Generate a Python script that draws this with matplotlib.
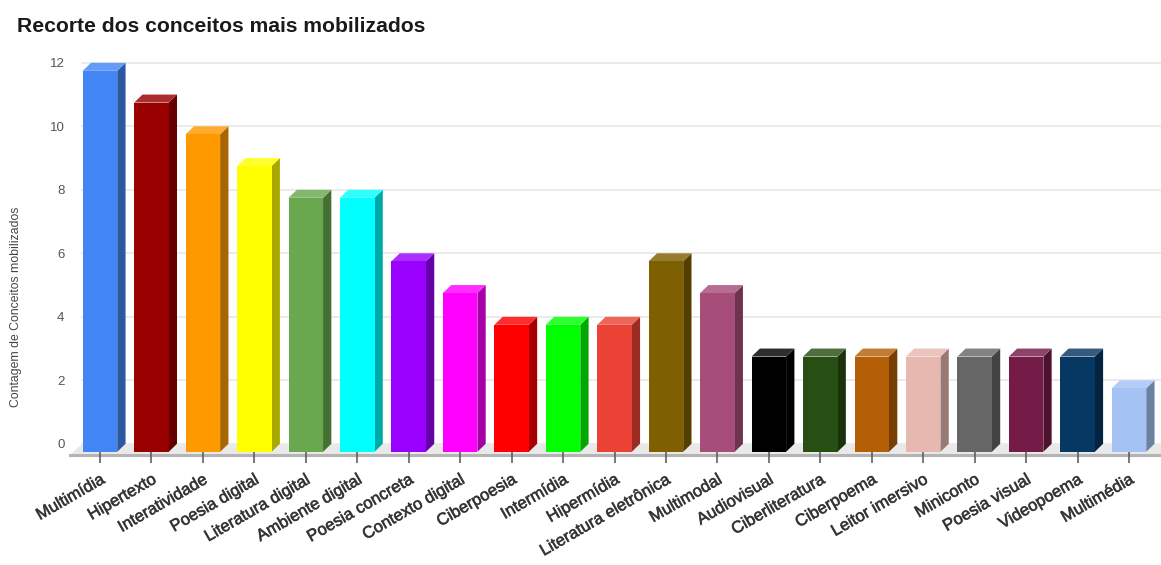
import matplotlib
matplotlib.use("Agg")
import matplotlib.pyplot as plt
import matplotlib.patheffects as pe
from matplotlib.colors import to_rgb
from matplotlib.patches import Polygon
import numpy as np

plt.rcParams['font.family'] = ['Liberation Sans', 'DejaVu Sans']

title = "Recorte dos conceitos mais mobilizados"
ylabel = "Contagem de Conceitos mobilizados"
concepts = ["Multimídia", "Hipertexto", "Interatividade", "Poesia digital",
            "Literatura digital", "Ambiente digital", "Poesia concreta",
            "Contexto digital", "Ciberpoesia", "Intermídia", "Hipermídia",
            "Literatura eletrônica", "Multimodal", "Audiovisual",
            "Ciberliteratura", "Ciberpoema", "Leitor imersivo", "Miniconto",
            "Poesia visual", "Videopoema", "Multimédia"]
counts = [12, 11, 10, 9, 8, 8, 6, 5, 4, 4, 4, 6, 5, 3, 3, 3, 3, 3, 3, 3, 2]
colors = ["#4285f4", "#980000", "#ff9900", "#ffff00", "#6aa84f", "#00ffff",
          "#9900ff", "#ff00ff", "#ff0000", "#00ff00", "#ea4335", "#7f6000",
          "#a64d79", "#000000", "#274e13", "#b45f06", "#e6b8af", "#666666",
          "#741b47", "#073763", "#a4c2f4"]
yticks = [0, 2, 4, 6, 8, 10, 12]

W, H = 1161, 565
# pixel geometry of the plot
x_step = 51.45
y_step = 31.75
x0_px = 100
y0_px = 451.8
left_px = 70
bottom_px = 455
top_px = 50

fig = plt.figure(figsize=(W / 100, H / 100), dpi=100)
ax = fig.add_axes([left_px / W, 1 - bottom_px / H, (W - left_px) / W, (bottom_px - top_px) / H])
ax.set_xlim((left_px - x0_px) / x_step, (W - x0_px) / x_step)
ax.set_ylim((y0_px - bottom_px) / y_step, (y0_px - top_px) / y_step)

dx = 8.3 / x_step
dy = 8.0 / y_step
bar_w = 34.5 / x_step

# floor and back gridlines
xl, xr = ax.get_xlim()
yb = ax.get_ylim()[0]
ax.add_patch(Polygon([(xl, yb), (xl + 12 / x_step, dy), (xr, dy), (xr, yb)],
                     facecolor="#e9e9e9", edgecolor="none", zorder=1))
for v in yticks:
    ax.plot([xl + 12 / x_step, xr], [v + dy, v + dy], color="#ebebeb", lw=1.4, zorder=1.5)


def shade(color, side):
    rgb = np.array(to_rgb(color))
    if side == "right":
        return tuple(rgb * 0.66)
    return tuple(rgb * 0.82 + 0.18)


for i, (v, c) in enumerate(zip(counts, colors)):
    a, b = i - bar_w / 2, i + bar_w / 2
    ax.bar(i, v, width=bar_w, color=c, zorder=3)
    ax.add_patch(Polygon([(b, 0), (b + dx, dy), (b + dx, v + dy), (b, v)],
                         facecolor=shade(c, "right"), edgecolor="none", zorder=2.9))
    ax.add_patch(Polygon([(a, v), (a + dx, v + dy), (b + dx, v + dy), (b, v)],
                         facecolor=shade(c, "top"), edgecolor="none", zorder=2.9))

for s in ["top", "right", "left"]:
    ax.spines[s].set_visible(False)
ax.spines["bottom"].set_color("#b4b4b4")
ax.spines["bottom"].set_linewidth(2.2)
ax.spines["bottom"].set_zorder(2)

ax.set_xticks(range(len(concepts)))
ax.set_xticklabels(concepts, rotation=30, ha="right", rotation_mode="anchor",
                   fontsize=12, color="#333333")
ax.tick_params(axis="x", direction="inout", length=12, width=1.1, color="#555555", pad=6)
for t in ax.xaxis.get_major_ticks():
    t.tick1line.set_zorder(5)
    t.label1.set_path_effects([pe.withStroke(linewidth=0.5, foreground="#555555")])
ax.set_axisbelow(False)

ax.set_yticks([v + dy for v in yticks])
ax.set_yticklabels([str(v) for v in yticks], fontsize=9.5, color="#555555")
ax.tick_params(axis="y", length=0, pad=4)

fig.text(17 / W, 1 - 26 / H, title, fontsize=15.2, fontweight="bold", color="#1a1a1a",
         ha="left", va="center")
fig.text(16 / W, 1 - 307 / H, ylabel, fontsize=8.8, color="#444444", rotation=90,
         ha="center", va="center")

fig.savefig("out.png", dpi=100)
